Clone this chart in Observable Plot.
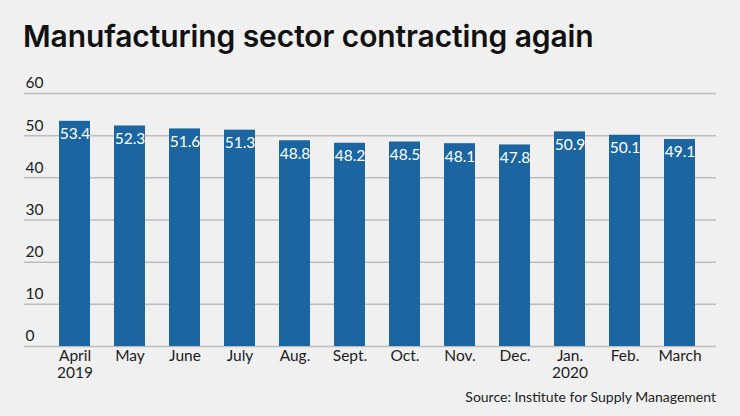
<!DOCTYPE html>
<html>
<head>
<meta charset="utf-8">
<script src="https://cdn.jsdelivr.net/npm/d3@7"></script>
<script src="https://cdn.jsdelivr.net/npm/@observablehq/plot@0.6"></script>
<style>
  html, body { margin: 0; padding: 0; background: #f0f0f0; }
  #wrap { position: relative; width: 740px; height: 416px; background: #f0f0f0; overflow: hidden; font-family: Lato, "Noto Sans", sans-serif; }
  #title { position: absolute; left: 23px; top: 18px; font-family: Inter, Lato, sans-serif; font-size: 30px; font-weight: 600; color: #111; white-space: nowrap; letter-spacing: -0.1px; }
  #chart { position: absolute; left: 0; top: 70px; }
  #source { position: absolute; right: 24px; top: 388px; font-size: 14px; color: #222; }
</style>
</head>
<body>
<div id="wrap">
  <div id="title">Manufacturing sector contracting again</div>
  <div id="chart"></div>
  <div id="source">Source: Institute for Supply Management</div>
</div>
<script>
const months = ["April", "May", "June", "July", "Aug.", "Sept.", "Oct.", "Nov.", "Dec.", "Jan.", "Feb.", "March"];
const years  = ["2019", "", "", "", "", "", "", "", "", "2020", "", ""];
const values = [53.4, 52.3, 51.6, 51.3, 48.8, 48.2, 48.5, 48.1, 47.8, 50.9, 50.1, 49.1];
const yTicks = [0, 10, 20, 30, 40, 50, 60];

const data = months.map((m, i) => ({ key: i, month: m, year: years[i], value: values[i] }));
const labelOf = new Map(data.map(d => [d.key, d.year ? d.month + "\n" + d.year : d.month]));

const chart = Plot.plot({
  width: 740,
  height: 315,
  marginLeft: 24,
  marginRight: 24,
  marginTop: 23,
  marginBottom: 39,
  style: { background: "transparent", fontFamily: "Lato, 'Noto Sans', sans-serif" },
  x: { domain: data.map(d => d.key), paddingInner: 0.44, paddingOuter: 0.488, align: 0.625, label: null, axis: null },
  y: { domain: [0, 60], label: null, axis: null },
  marks: [
    Plot.ruleY(yTicks, { stroke: "#bdbdbd", strokeWidth: 1.5 }),
    Plot.text(yTicks, { y: d => d, frameAnchor: "left", textAnchor: "start", dx: 1, dy: -10, text: d => String(d), fontSize: 15.5, fill: "#222" }),
    Plot.barY(data, { x: "key", y: "value", fill: "#1b66a0" }),
    Plot.text(data, { x: "key", y: "value", text: d => d.value.toFixed(1), fill: "white", fontSize: 15.5, dy: 13, lineAnchor: "middle" }),
    Plot.text(data, { x: "key", frameAnchor: "bottom", text: d => labelOf.get(d.key), fill: "#222", fontSize: 15.5, lineAnchor: "top", lineHeight: 1.12, dy: 2 })
  ]
});
document.getElementById("chart").appendChild(chart);
</script>
</body>
</html>
